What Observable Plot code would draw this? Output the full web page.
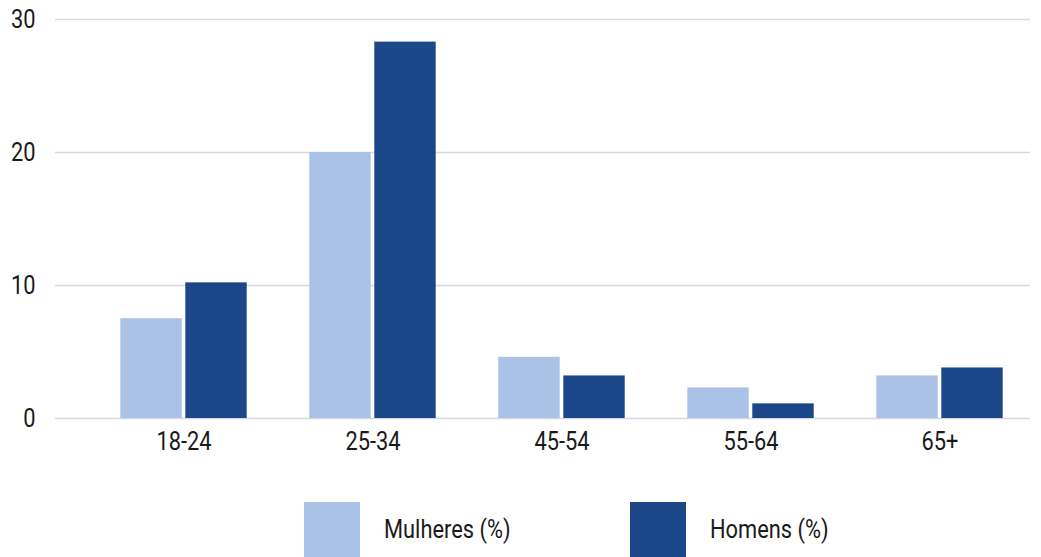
<!DOCTYPE html>
<html>
<head>
<meta charset="utf-8">
<script src="https://cdn.jsdelivr.net/npm/d3@7"></script>
<script src="https://cdn.jsdelivr.net/npm/@observablehq/plot@0.6"></script>
<style>
  html, body { margin: 0; padding: 0; background: #fff; }
  #chart { width: 1041px; height: 557px; overflow: hidden; position: relative; font-family: Roboto, "DejaVu Sans Condensed", sans-serif; color: #1a1a1a; }
  .legend { position: absolute; top: 502px; left: 0; width: 1041px; height: 60px; }
  .item { position: absolute; top: 0; height: 55px; display: flex; align-items: center; }
  .sw { width: 56px; height: 55px; margin-right: 24px; flex: none; }
  .lab { font-size: 26px; line-height: 1; margin-top: -2px; display: inline-block; transform: scaleX(0.84); transform-origin: left center; white-space: nowrap; }
</style>
</head>
<body>
<div id="chart"></div>
<script>
const ages = ["18-24", "25-34", "45-54", "55-64", "65+"];
const mulheres = [7.5, 20.0, 4.6, 2.3, 3.2];
const homens = [10.2, 28.3, 3.2, 1.1, 3.8];
const yTicks = [0, 10, 20, 30];
const seriesNames = ["Mulheres (%)", "Homens (%)"];
const colors = ["#aac2e6", "#1b4789"];

const dataM = ages.map((a, i) => ({age: a, value: mulheres[i]}));
const dataH = ages.map((a, i) => ({age: a, value: homens[i]}));

const step = (1035 - 87) / ages.length;
const barW = 62, gap = 3;
const outer = (step - (2 * barW + gap)) / 2;

const plot = Plot.plot({
  width: 1041,
  height: 470,
  marginTop: 19,
  marginBottom: 52,
  marginLeft: 55,
  marginRight: 11,
  style: {fontFamily: "Roboto, DejaVu Sans Condensed, sans-serif", fontSize: "26px", color: "#1a1a1a", background: "#fff"},
  x: {domain: ages, range: [87, 1035], padding: 0, label: null},
  y: {domain: [0, 30], label: null},
  marks: [
    Plot.ruleY(yTicks, {stroke: "#d8d8e2", strokeWidth: 1.5}),
    Plot.barY(dataM, {x: "age", y: "value", fill: colors[0], insetLeft: outer, insetRight: step - outer - barW}),
    Plot.barY(dataH, {x: "age", y: "value", fill: colors[1], insetLeft: outer + barW + gap, insetRight: outer}),
    Plot.axisY({ticks: yTicks, tickSize: 0, tickPadding: 20, fontSize: 26, label: null, fill: "#1a1a1a"}),
    Plot.axisX({tickSize: 0, tickPadding: 13, fontSize: 26, label: null, fill: "#1a1a1a"})
  ]
});

// condense axis label glyphs horizontally (narrow DIN-like look)
plot.querySelectorAll("g[aria-label$='tick label'] text").forEach(el => {
  const xa = el.getAttribute("x");
  let pre = "";
  if (xa !== null && !isNaN(+xa)) { pre = ` translate(${+xa},0)`; el.removeAttribute("x"); }
  el.setAttribute("transform", `${el.getAttribute("transform") || ""}${pre} scale(0.84,1)`);
});

const chart = document.getElementById("chart");
chart.appendChild(plot);

const legend = document.createElement("div");
legend.className = "legend";
const lefts = [304, 630];
seriesNames.forEach((name, i) => {
  const item = document.createElement("div");
  item.className = "item";
  item.style.left = lefts[i] + "px";
  const sw = document.createElement("div");
  sw.className = "sw";
  sw.style.background = colors[i];
  const lab = document.createElement("span");
  lab.className = "lab";
  lab.textContent = name;
  item.appendChild(sw);
  item.appendChild(lab);
  legend.appendChild(item);
});
chart.appendChild(legend);
</script>
</body>
</html>
